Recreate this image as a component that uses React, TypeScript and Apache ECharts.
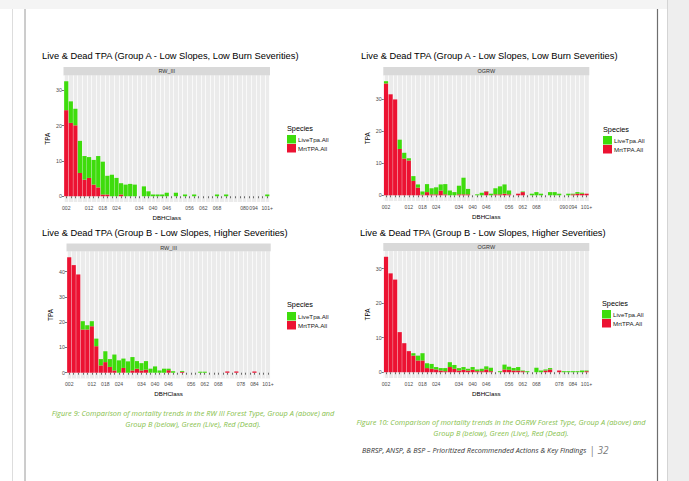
import React, { useEffect, useRef } from "react";
import * as echarts from "echarts";

// ---------- data ----------
const baseClasses = [
  "002", "004", "006", "008", "010", "012", "014", "016", "018", "020",
  "022", "024", "026", "028", "030", "032", "034", "036", "038", "040",
  "042", "044", "046", "048", "050", "052", "054", "056", "058", "060",
  "062", "064", "066", "068",
];
const categoriesRwA = baseClasses.concat(["070", "072", "074", "076", "078", "080", "084", "094", "096", "098", "101+"]);
const categoriesOgrwA = baseClasses.concat(["070", "072", "074", "078", "082", "090", "092", "094", "096", "098", "101+"]);
const categoriesB = baseClasses.concat(["070", "072", "074", "076", "078", "080", "082", "084", "088", "092", "101+"]);

const tickLabelsRwA = ["002", "012", "018", "024", "034", "040", "046", "056", "062", "068", "080", "094", "101+"];
const tickLabelsOgrwA = ["002", "012", "018", "024", "034", "040", "046", "056", "062", "068", "090", "094", "101+"];
const tickLabelsB = ["002", "012", "018", "024", "034", "040", "046", "056", "062", "068", "078", "084", "101+"];

const yTicks30 = [0, 10, 20, 30];
const yTicks40 = [0, 10, 20, 30, 40];

// RW, Group A
const liveRwA = [
  8.2, 6.1, 4.7, 9.1, 6.7, 5.9, 7.0, 8.9, 9.3, 5.3,
  6.1, 5.2, 3.2, 3.3, 3.5, 3.3, 0, 2.8, 1.4, 0.5,
  0.5, 0.5, 1.0, 0, 1.0, 0, 0.5, 0, 0.5, 0,
  0, 0, 0, 0.5, 0, 0.5, 0, 0, 0, 0,
  0, 0, 0, 0, 0.5,
];
const mrtRwA = [
  24.4, 20.8, 20.1, 6.6, 4.7, 5.2, 3.3, 2.5, 0.5, 0.5,
  0, 0, 0.5, 0, 0, 0, 0, 0, 0, 0,
  0, 0, 0, 0, 0, 0, 0, 0, 0, 0,
  0, 0, 0, 0, 0, 0, 0, 0, 0, 0,
  0, 0, 0, 0, 0,
];
// OGRW, Group A
const liveOgrwA = [
  0.7, 0, 0, 2.9, 1.8, 0.7, 1.5, 1.0, 1.0, 2.5,
  1.9, 2.2, 1.9, 3.2, 1.5, 1.0, 2.7, 5.2, 1.7, 0,
  0.3, 0.8, 0.1, 0.5, 1.9, 2.5, 2.9, 1.2, 0, 0,
  0.2, 0, 0.5, 1.0, 0.5, 0, 1.0, 1.0, 0.5, 0,
  0.5, 0.2, 0.5, 0.3, 0,
];
const mrtOgrwA = [
  35.0, 31.6, 30.0, 14.5, 11.5, 10.9, 4.5, 2.4, 0.2, 1.0,
  0.3, 0.3, 1.5, 0.3, 0, 0, 0.3, 0.3, 0.3, 0,
  0, 0, 1.2, 0, 0.3, 0.3, 0.5, 0.3, 0, 0.5,
  1.0, 0, 0, 0, 0, 0, 0, 0, 0, 0,
  0, 0.3, 0.5, 0.5, 0.5,
];
// RW, Group B
const liveRwB = [
  0, 0, 0, 3.3, 1.7, 2.0, 3.0, 2.5, 4.3, 3.1,
  6.3, 4.9, 3.7, 4.5, 5.3, 3.0, 2.9, 3.4, 1.6, 2.5,
  0.9, 1.6, 0.6, 0.6, 0, 0.35, 0, 0, 0, 0.4,
  0.4, 0, 0, 0, 0, 0, 0, 0, 0, 0,
  0, 0, 0, 0, 0,
];
const mrtRwB = [
  45.7, 42.6, 38.9, 17.1, 17.1, 18.4, 10.5, 2.9, 4.2, 2.3,
  0.9, 0, 1.9, 0, 0.9, 1.6, 0.9, 1.2, 0, 0,
  0, 0, 1.0, 0, 0, 0.35, 0, 0, 0, 0,
  0, 0, 0, 0, 0, 0.5, 0, 0.5, 0, 0,
  0, 0.5, 0, 0, 0,
];
// OGRW, Group B
const liveOgrwB = [
  0, 0, 0, 0, 0, 0, 0.7, 1.4, 2.1, 1.4,
  1.4, 0.7, 0.7, 0.9, 1.4, 1.1, 0.7, 0.8, 0.5, 0.8,
  0.5, 0.7, 0.9, 1.0, 0, 0.3, 1.4, 0.9, 0.7, 1.0,
  0.2, 0.3, 0, 1.3, 0.5, 0.3, 0.4, 0, 0, 0.3,
  0.3, 0.3, 0.3, 0.5, 0.2,
];
const mrtOgrwB = [
  33.4, 28.6, 26.8, 11.6, 8.4, 6.1, 4.8, 3.4, 3.4, 1.2,
  1.0, 0.8, 0.5, 0.3, 1.5, 1.0, 0.5, 0.7, 0.5, 0.7,
  0.3, 0.3, 0.8, 0.3, 0, 0, 0.8, 0.7, 0.5, 0.5,
  0.3, 0, 0, 0, 0, 0.5, 0.8, 0, 0.5, 0,
  0, 0, 0, 0, 0.3,
];

const speciesNames = ["LiveTpa.All", "MrtTPA.All"];
const titleA = "Live & Dead TPA (Group A - Low Slopes, Low Burn Severities)";
const titleB = "Live & Dead TPA (Group B - Low Slopes, Higher Severities)";
const stripRw = "RW_III";
const stripOgrw = "OGRW";
const captionLeft = [
  "Figure 9: Comparison of mortality trends in the RW III Forest Type, Group A (above) and",
  "Group B (below), Green (Live), Red (Dead).",
];
const captionRight = [
  "Figure 10: Comparison of mortality trends in the OGRW Forest Type, Group A (above) and",
  "Group B (below), Green (Live), Red (Dead).",
];
const footerText = "BBRSP, ANSP, & BSP \u2013 Prioritized Recommended Actions & Key Findings";
const pageNumber = "32";

// ---------- styles / layout ----------
const GREEN = "#3edc0c";
const RED = "#ec1232";
const PANEL_BG = "#ebebeb";
const STRIP_BG = "#d9d9d9";
const FONT = "Liberation Sans";
const DOC_FONT = "Open Sans";

const layouts = [
  { panel: [63.5, 75.5, 270, 202], strip: 67, legend: [287, 135], species: 128.5, title: [42, 56] },
  { panel: [383.3, 75.5, 589.3, 201], strip: 67, legend: [603, 136], species: 129, title: [361, 56] },
  { panel: [66.5, 251.5, 270.7, 378.5], strip: 243.5, legend: [287, 312], species: 304.5, title: [42, 233] },
  { panel: [383.3, 251, 589.3, 378], strip: 243, legend: [602, 310], species: 303.5, title: [360, 233] },
];

const charts = [
  { cats: categoriesRwA, shown: tickLabelsRwA, live: liveRwA, mrt: mrtRwA, yTicks: yTicks30, title: titleA, strip: stripRw },
  { cats: categoriesOgrwA, shown: tickLabelsOgrwA, live: liveOgrwA, mrt: mrtOgrwA, yTicks: yTicks30, title: titleA, strip: stripOgrw },
  { cats: categoriesB, shown: tickLabelsB, live: liveRwB, mrt: mrtRwB, yTicks: yTicks40, title: titleB, strip: stripRw },
  { cats: categoriesB, shown: tickLabelsB, live: liveOgrwB, mrt: mrtOgrwB, yTicks: yTicks30, title: titleB, strip: stripOgrw },
];

function buildOption() {
  const grids: any[] = [];
  const xAxes: any[] = [];
  const yAxes: any[] = [];
  const series: any[] = [];
  const legends: any[] = [];
  const graphics: any[] = [];

  // page decoration
  graphics.push(
    { type: "rect", z: -20, shape: { x: 0, y: 0, width: 689, height: 9 }, style: { fill: "#f4f4f4" } },
    { type: "rect", z: -20, shape: { x: 668, y: 0, width: 21, height: 481 }, style: { fill: "#eeeeee" } },
    { type: "line", z: -19, shape: { x1: 12.5, y1: 9, x2: 12.5, y2: 481 }, style: { stroke: "#dddddd", lineWidth: 1 } },
    { type: "line", z: -19, shape: { x1: 25, y1: 9, x2: 25, y2: 481 }, style: { stroke: "#9a9a9a", lineWidth: 1 } },
    { type: "line", z: -19, shape: { x1: 657.5, y1: 9, x2: 657.5, y2: 481 }, style: { stroke: "#6e6e6e", lineWidth: 1.2 } },
    { type: "line", z: -19, shape: { x1: 667.5, y1: 0, x2: 667.5, y2: 481 }, style: { stroke: "#d4d4d4", lineWidth: 1 } }
  );

  charts.forEach((c, i) => {
    const lay = layouts[i];
    const [l, t, r, b] = lay.panel;
    const cw = (r - l) / 45.2;
    const totals = c.live.map((v, k) => v + c.mrt[k]);
    const maxT = Math.max(...totals);
    const shown = c.shown;

    grids.push({
      left: l + 0.1 * cw,
      top: t,
      width: 45 * cw,
      height: b - t,
      show: true,
      backgroundColor: PANEL_BG,
      borderWidth: 0,
    });
    xAxes.push({
      type: "category",
      gridIndex: i,
      data: c.cats,
      boundaryGap: true,
      axisLine: { show: false },
      axisTick: { show: true, interval: 0, alignWithLabel: true, length: 2, lineStyle: { color: "#333", width: 0.7 } },
      axisLabel: {
        interval: (_idx: number, val: string) => shown.includes(val),
        fontSize: 5.1,
        color: "#4d4d4d",
        margin: 3,
        fontFamily: FONT,
      },
      splitLine: { show: true, interval: 0, lineStyle: { color: "#ffffff", width: 0.7 } },
      name: "DBHClass",
      nameLocation: "middle",
      nameGap: 12,
      nameTextStyle: { fontSize: 6.2, color: "#000", fontFamily: FONT },
    });
    yAxes.push({
      type: "value",
      gridIndex: i,
      min: -0.05 * maxT,
      max: 1.05 * maxT,
      axisLine: { show: false },
      axisTick: { show: true, length: 2, lineStyle: { color: "#333", width: 0.7 }, customValues: c.yTicks },
      axisLabel: { customValues: c.yTicks, fontSize: 5.3, color: "#4d4d4d", margin: 2, fontFamily: FONT },
      splitLine: { show: false },
      name: "TPA",
      nameLocation: "middle",
      nameGap: 12.5,
      nameTextStyle: { fontSize: 6.5, color: "#000", fontFamily: FONT },
    });
    series.push(
      {
        type: "bar",
        name: speciesNames[1],
        xAxisIndex: i,
        yAxisIndex: i,
        stack: "s" + i,
        data: c.mrt,
        itemStyle: { color: RED },
        barCategoryGap: "8%",
        silent: true,
      },
      {
        type: "bar",
        name: speciesNames[0],
        xAxisIndex: i,
        yAxisIndex: i,
        stack: "s" + i,
        data: c.live,
        itemStyle: { color: GREEN },
        barCategoryGap: "8%",
        silent: true,
      }
    );
    legends.push({
      data: speciesNames,
      orient: "vertical",
      left: lay.legend[0],
      top: lay.legend[1],
      padding: 0,
      itemWidth: 9,
      itemHeight: 8.5,
      itemGap: 0.5,
      icon: "rect",
      selectedMode: false,
      textStyle: { fontSize: 6.2, color: "#1a1a1a", fontFamily: FONT, padding: [0, 0, 0, -3] },
    });
    graphics.push(
      {
        type: "text",
        x: lay.title[0],
        y: lay.title[1],
        style: { text: c.title, fill: "#000", fontSize: 9.3, fontFamily: FONT, align: "left", verticalAlign: "middle" },
      },
      {
        type: "rect",
        shape: { x: l, y: lay.strip, width: r - l, height: t - lay.strip },
        style: { fill: STRIP_BG },
      },
      {
        type: "text",
        x: (l + r) / 2,
        y: (lay.strip + t) / 2,
        style: { text: c.strip, fill: "#333", fontSize: 5.5, fontFamily: FONT, align: "center", verticalAlign: "middle" },
      },
      {
        type: "text",
        x: lay.legend[0],
        y: lay.species,
        style: { text: "Species", fill: "#000", fontSize: 7.3, fontFamily: FONT, align: "left", verticalAlign: "middle" },
      }
    );
  });

  // captions and footer
  const capStyle = { fill: "#86c04a", fontSize: 7.4, fontFamily: DOC_FONT, fontStyle: "italic", verticalAlign: "middle" };
  graphics.push(
    { type: "text", x: 193, y: 413, style: { ...capStyle, text: captionLeft[0], align: "center" } },
    { type: "text", x: 193, y: 424, style: { ...capStyle, text: captionLeft[1], align: "center" } },
    { type: "text", x: 501, y: 421.5, style: { ...capStyle, text: captionRight[0], align: "center" } },
    { type: "text", x: 501, y: 432.5, style: { ...capStyle, text: captionRight[1], align: "center" } },
    {
      type: "text",
      x: 362,
      y: 450,
      style: {
        text: "{a|" + footerText + "} {b|| " + pageNumber + "}",
        fontFamily: DOC_FONT,
        fontStyle: "italic",
        align: "left",
        verticalAlign: "middle",
        rich: {
          a: { fontSize: 7.2, fill: "#333", fontFamily: DOC_FONT, fontStyle: "italic" },
          b: { fontSize: 10, fill: "#7a7a7a", fontFamily: DOC_FONT, fontStyle: "italic" },
        },
      },
    }
  );

  return {
    animation: false,
    backgroundColor: "#ffffff",
    grid: grids,
    xAxis: xAxes,
    yAxis: yAxes,
    series,
    legend: legends,
    graphic: graphics,
  };
}

export default function App() {
  const ref = useRef<HTMLDivElement>(null);
  useEffect(() => {
    if (!ref.current) return;
    const chart = echarts.init(ref.current, null, { renderer: "svg", width: 689, height: 481 });
    chart.setOption(buildOption() as any);
    return () => chart.dispose();
  }, []);
  return <div ref={ref} style={{ position: "fixed", left: 0, top: 0, width: 689, height: 481 }} />;
}
